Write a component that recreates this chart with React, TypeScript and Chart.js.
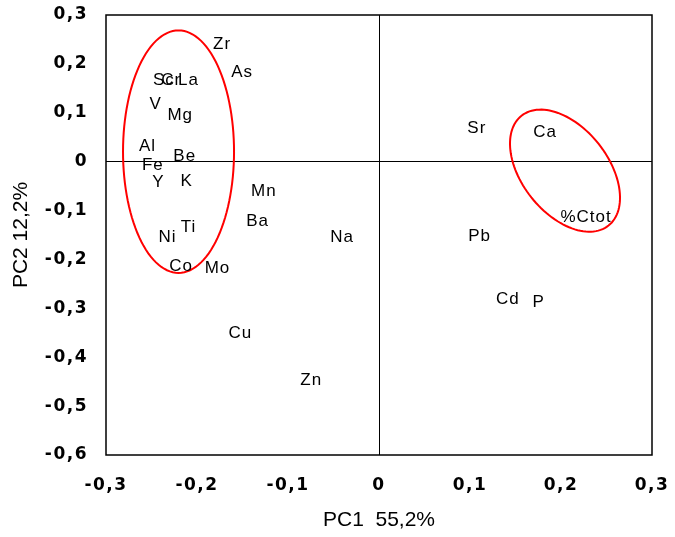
import React, { useEffect, useRef } from "react";
import { Chart, registerables } from "chart.js";

Chart.register(...registerables);

// Variable names (loadings plot labels)
const variables = ["Zr", "As", "Sc", "Cr", "La", "V", "Mg", "Al", "Be", "Fe", "Y", "K", "Mn", "Ba", "Ti", "Ni", "Co", "Mo", "Na", "Cu", "Zn", "Sr", "Ca", "%Ctot", "Pb", "Cd", "P"];
// PC1 loadings
const pc1 = [-0.173, -0.151, -0.237, -0.229, -0.210, -0.246, -0.219, -0.255, -0.214, -0.249, -0.243, -0.212, -0.127, -0.134, -0.210, -0.233, -0.218, -0.178, -0.041, -0.153, -0.075, 0.107, 0.182, 0.227, 0.110, 0.141, 0.175];
// PC2 loadings
const pc2 = [0.240, 0.182, 0.166, 0.166, 0.166, 0.117, 0.094, 0.031, 0.010, -0.008, -0.043, -0.041, -0.061, -0.123, -0.135, -0.154, -0.215, -0.219, -0.154, -0.352, -0.447, 0.068, 0.061, -0.113, -0.152, -0.281, -0.287];

// Axis ranges
const xRange = [-0.3, 0.3];
const yRange = [-0.6, 0.3];
const tickStep = 0.1;
const xTitle = "PC1  55,2%";
const yTitle = "PC2 12,2%";

// Group ellipses in data units: centre, first half-axis vector, second half-axis vector
const ellipseCentres = [[-0.2203, 0.0205], [0.2044, -0.0184]];
const ellipseAxisA = [[0.061, 0], [0.0478, -0.1123]];
const ellipseAxisB = [[0, 0.248], [-0.037, -0.0547]];

const fmt = (v: number | string) => {
  const n = Number(v);
  if (Math.abs(n) < 1e-9) return "0";
  return n.toFixed(1).replace(".", ",");
};

const FONT = '"Liberation Sans", Arial, sans-serif';
const TICK_FONT = '"DejaVu Sans", sans-serif';

export default function App() {
  const ref = useRef<HTMLCanvasElement | null>(null);

  useEffect(() => {
    if (!ref.current) return;

    const overlay = {
      id: "overlay",
      beforeDraw(chart: any) {
        (chart.ctx as any).letterSpacing = "0px";
      },
      afterDatasetsDraw(chart: any) {
        const ctx = chart.ctx;
        const xs = chart.scales.x;
        const ys = chart.scales.y;
        const { left, right, top, bottom } = chart.chartArea;
        // frame
        ctx.save();
        ctx.strokeStyle = "#000";
        ctx.lineWidth = 1.5;
        ctx.strokeRect(left, top, right - left, bottom - top);
        ctx.restore();
        // ellipses
        ctx.save();
        ctx.strokeStyle = "#ff0000";
        ctx.lineWidth = 2;
        for (let e = 0; e < ellipseCentres.length; e++) {
          const [cx, cy] = ellipseCentres[e];
          const [ax, ay] = ellipseAxisA[e];
          const [bx, by] = ellipseAxisB[e];
          ctx.beginPath();
          const n = 120;
          for (let i = 0; i <= n; i++) {
            const t = (i / n) * Math.PI * 2;
            const dx = cx + ax * Math.cos(t) + bx * Math.sin(t);
            const dy = cy + ay * Math.cos(t) + by * Math.sin(t);
            const px = xs.getPixelForValue(dx);
            const py = ys.getPixelForValue(dy);
            if (i === 0) ctx.moveTo(px, py);
            else ctx.lineTo(px, py);
          }
          ctx.closePath();
          ctx.stroke();
        }
        ctx.restore();
        // labels
        const meta = chart.getDatasetMeta(0);
        ctx.save();
        (ctx as any).letterSpacing = "1px";
        ctx.font = `17px ${FONT}`;
        ctx.fillStyle = "#000";
        ctx.textAlign = "center";
        ctx.textBaseline = "middle";
        meta.data.forEach((pt: any, i: number) => {
          ctx.fillText(variables[i], pt.x + 0.5, pt.y);
        });
        ctx.restore();
        // tick labels drawn after this get wider spacing
        (ctx as any).letterSpacing = "1.5px";
      },
      afterDraw(chart: any) {
        (chart.ctx as any).letterSpacing = "0px";
      },
    };

    const zeroLine = (c: any) => (c.tick && c.tick.value === 0 ? "#000" : "rgba(0,0,0,0)");

    const chart = new Chart(ref.current, {
      type: "scatter",
      data: {
        datasets: [
          {
            label: "loadings",
            data: pc1.map((x, i) => ({ x, y: pc2[i] })),
            pointRadius: 0,
            pointHoverRadius: 0,
            showLine: false,
          },
        ],
      },
      options: {
        responsive: false,
        animation: false,
        events: [],
        layout: { padding: { top: 15, right: 23, left: 0, bottom: 0 } },
        plugins: {
          legend: { display: false },
          tooltip: { enabled: false },
        },
        scales: {
          x: {
            type: "linear",
            min: xRange[0],
            max: xRange[1],
            afterFit(scale: any) {
              scale.height = 82;
              scale.paddingLeft = 0;
              scale.paddingRight = 0;
            },
            ticks: {
              stepSize: tickStep,
              autoSkip: false,
              maxRotation: 0,
              padding: 20,
              color: "#000",
              font: { family: TICK_FONT, size: 17, weight: "bold" },
              callback: (v: any) => fmt(v),
              z: 1,
            },
            grid: { color: zeroLine, lineWidth: 1, drawTicks: false },
            border: { display: false },
            title: {
              display: true,
              text: xTitle,
              color: "#000",
              font: { family: FONT, size: 21 },
              padding: { top: 0, bottom: 4 },
            },
          },
          y: {
            type: "linear",
            min: yRange[0],
            max: yRange[1],
            afterFit(scale: any) {
              scale.width = 106;
              scale.paddingTop = 0;
              scale.paddingBottom = 0;
            },
            ticks: {
              stepSize: tickStep,
              autoSkip: false,
              padding: 18,
              color: "#000",
              font: { family: TICK_FONT, size: 17, weight: "bold" },
              callback: (v: any) => fmt(v),
              z: 1,
            },
            grid: { color: zeroLine, lineWidth: 1, drawTicks: false },
            border: { display: false },
            title: {
              display: true,
              text: yTitle,
              color: "#000",
              font: { family: FONT, size: 21 },
              padding: { top: 9, bottom: 0 },
            },
          },
        },
      } as any,
      plugins: [overlay as any],
    });

    return () => chart.destroy();
  }, []);

  return (
    <div style={{ position: "absolute", left: 0, top: 0, width: 675, height: 537, background: "#fff" }}>
      <canvas ref={ref} width={675} height={537} style={{ width: 675, height: 537 }} />
    </div>
  );
}
